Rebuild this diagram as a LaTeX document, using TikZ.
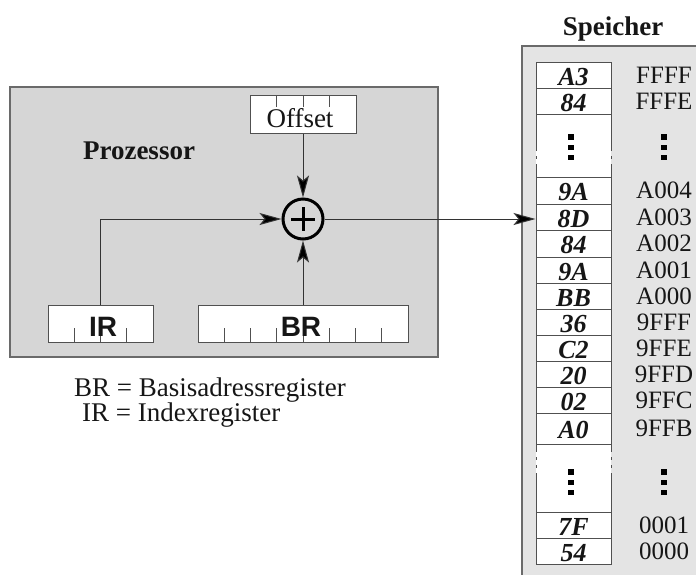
\documentclass[tikz,border=0pt]{standalone}
\usepackage{fontspec}
\setmainfont{Liberation Serif}
\setsansfont{Liberation Sans}
\usetikzlibrary{arrows.meta,calc}
\definecolor{procfill}{HTML}{D6D6D6}
\definecolor{memfill}{HTML}{E4E4E4}
\definecolor{frame}{HTML}{6A6A6A}
\definecolor{boxline}{HTML}{505050}
\definecolor{lineclr}{HTML}{333333}
\definecolor{txt}{HTML}{161616}
\tikzset{
  lbl/.style={inner sep=0pt, text=txt},
  regbox/.style={draw=boxline, fill=white, line width=1pt, inner sep=0pt},
  conn/.style={draw=lineclr, line width=1pt, -{Stealth[length=22pt,width=12pt,inset=5pt,fill=black]}},
  tick/.style={draw=boxline, line width=1pt},
  cell/.style={draw=boxline, fill=white, line width=1pt, inner sep=0pt, minimum width=75pt,
    text height=20pt, text depth=0pt, text=txt, font=\fontsize{26}{26}\selectfont\bfseries\itshape},
  addr/.style={inner sep=0pt, anchor=base, text=txt, font=\fontsize{25}{25}\selectfont},
  dotsq/.style={fill=black},
}
\begin{document}
\begin{tikzpicture}[x=1pt,y=-1pt]
\useasboundingbox (0,0) rectangle (696,574);
\clip (0,0) rectangle (696,574);
% processor
\node[draw=frame, fill=procfill, line width=1.5pt, minimum width=428pt, minimum height=270pt, inner sep=0pt] (proc) at (224,222) {};
\node[lbl, anchor=base, font=\fontsize{27}{27}\selectfont\bfseries] (proclbl) at (139,159) {Prozessor};
% offset register
\node[regbox, minimum width=106pt, minimum height=38pt] (off) at (303,114) {};
\foreach \k in {1,2,3} \draw[tick] (250+26.5*\k,95) -- (250+26.5*\k,107);
\node[lbl, anchor=base, font=\fontsize{27}{27}\selectfont] (offlbl) at (300,127) {Offset};
% IR and BR
\node[regbox, minimum width=105pt, minimum height=37pt] (ir) at (100.5,323.5) {};
\node[regbox, minimum width=210pt, minimum height=37pt] (br) at (303,323.5) {};
\foreach \k in {1,2,3} \draw[tick] (48+26.25*\k,342) -- (48+26.25*\k,328);
\foreach \k in {1,...,7} \draw[tick] (198+26.25*\k,342) -- (198+26.25*\k,328);
\node[lbl, anchor=base, font=\fontsize{28}{28}\selectfont\sffamily\bfseries] (irlbl) at (103,336) {IR};
\node[lbl, anchor=base, font=\fontsize{28}{28}\selectfont\sffamily\bfseries] (brlbl) at (301,336) {BR};
% adder
\node[circle, draw=black, line width=3pt, minimum size=40pt, inner sep=0pt] (plus) at (303,219) {};
\draw[line width=3pt] ($(plus.center)+(-12,0)$) -- ($(plus.center)+(12,0)$);
\draw[line width=3pt] ($(plus.center)+(0,-12)$) -- ($(plus.center)+(0,12)$);
% legend
\node[lbl, anchor=base west, font=\fontsize{27}{27}\selectfont] (leg1) at (74,396) {BR = Basisadressregister};
\node[lbl, anchor=base west, font=\fontsize{27}{27}\selectfont] (leg2) at (82,421) {IR = Indexregister};
% memory
\fill[memfill] (522,46) rectangle (720,600);
\draw[frame, line width=1.8pt] (720,46) -- (522,46) -- (522,600);
\node[lbl, anchor=base, font=\fontsize{27}{27}\selectfont\bfseries] (speicher) at (613,35) {Speicher};
\foreach \n/\t/\b/\v/\a in {m1/62/88/A3/FFFF, m2/88/114/84/FFFE, m3/177/204/9A/A004, m4/204/230/8D/A003,
  m5/230/257/84/A002, m6/257/283/9A/A001, m7/283/309/BB/A000, m8/309/335/36/9FFF, m9/335/361/C2/9FFE,
  m10/361/387/20/9FFD, m11/387/413/02/9FFC, m12/413/444/A0/9FFB, m13/512/538/7F/0001, m14/538/564/54/0000} {
  \node[cell, minimum height={(\b-\t)*1pt}] (\n) at (573.5,{(\t+\b)/2}) {\v};
  \node[addr] (a\n) at (664,{(\t+\b)/2+8}) {\a};
}
% ellipsis cells
\foreach \t/\b/\ga/\gb/\da in {114/177/148/167/137, 444/512/449/473/472} {
  \fill[white] (536,\t) rectangle (611,\b);
  \draw[boxline, line width=1pt] (536,\t) -- (536,\ga) (536,\gb) -- (536,\b);
  \draw[boxline, line width=1pt] (611,\t) -- (611,\ga) (611,\gb) -- (611,\b);
  \draw[boxline, line width=1pt, dash pattern=on 3pt off 5pt] (536,\ga) -- (536,\gb) (611,\ga) -- (611,\gb);
  \foreach \dx in {571,664} {
    \foreach \j in {0,1,2} \fill[dotsq] (\dx-2.6,\da+10.3*\j-2.6) rectangle (\dx+2.6,\da+10.3*\j+2.6);
  }
}
\draw[boxline, line width=1pt] (536,114) -- (611,114) (536,177) -- (611,177) (536,444) -- (611,444) (536,512) -- (611,512);
% connectors
\draw[conn] (off.south) -- (plus.north);
\draw[conn] (br.north) -- (plus.south);
\draw[conn] (ir.north) |- (plus.west);
\draw[conn] (plus.east) -- (plus.east -| m4.west);
\end{tikzpicture}
\end{document}
